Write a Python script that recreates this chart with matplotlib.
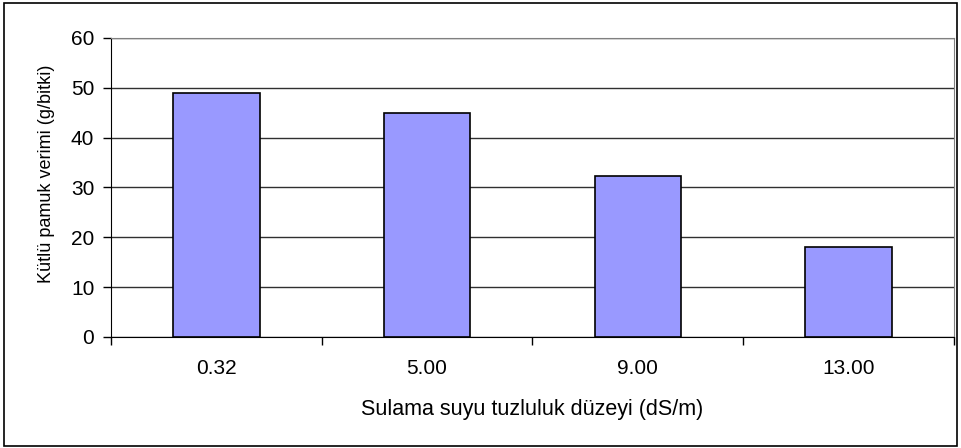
import matplotlib.pyplot as plt
from matplotlib.patches import Rectangle

# Veriler
kategoriler = ['0.32', '5.00', '9.00', '13.00']
verim = [49.0, 45.0, 32.3, 18.0]

plt.rcParams['font.family'] = ['Liberation Sans', 'DejaVu Sans']

fig = plt.figure(figsize=(9.61, 4.48), dpi=100)
ax = fig.add_axes([0.1155, 0.2478, 0.877, 0.6674])

x = range(len(kategoriler))
ax.bar(x, verim, width=0.41, color='#9999FF', edgecolor='black', linewidth=1.2, zorder=3)

ax.set_xlim(-0.5, len(kategoriler) - 0.5)
ax.set_ylim(0, 60)
ax.set_yticks(range(0, 61, 10))
ax.grid(axis='y', color='#303030', linewidth=1, zorder=0)

# x eksenindeki çizgiler kategori sınırlarında
ax.set_xticks(list(x))
ax.set_xticklabels(kategoriler)
ax.set_xticks([i - 0.5 for i in range(len(kategoriler) + 1)], minor=True)
ax.tick_params(axis='x', which='major', length=0, pad=16, labelsize=15)
ax.tick_params(axis='x', which='minor', length=6, color='black', width=1)
ax.tick_params(axis='y', length=6, width=1, labelsize=15, pad=6)

for s in ['top', 'right']:
    ax.spines[s].set_color('#808080')
for s in ['left', 'bottom']:
    ax.spines[s].set_color('black')

ax.set_xlabel('Sulama suyu tuzluluk düzeyi (dS/m)', fontsize=15.5, labelpad=15)
ax.set_ylabel('Kütlü pamuk verimi (g/bitki)', fontsize=13)
ax.yaxis.set_label_coords(-0.0664, 0.545)

# Dış çerçeve
fig.patches.append(Rectangle((4 / 961, 2 / 448), 953 / 961, 443 / 448,
                             transform=fig.transFigure, fill=False,
                             edgecolor='black', linewidth=1.2))

plt.savefig('out.png', dpi=100)
